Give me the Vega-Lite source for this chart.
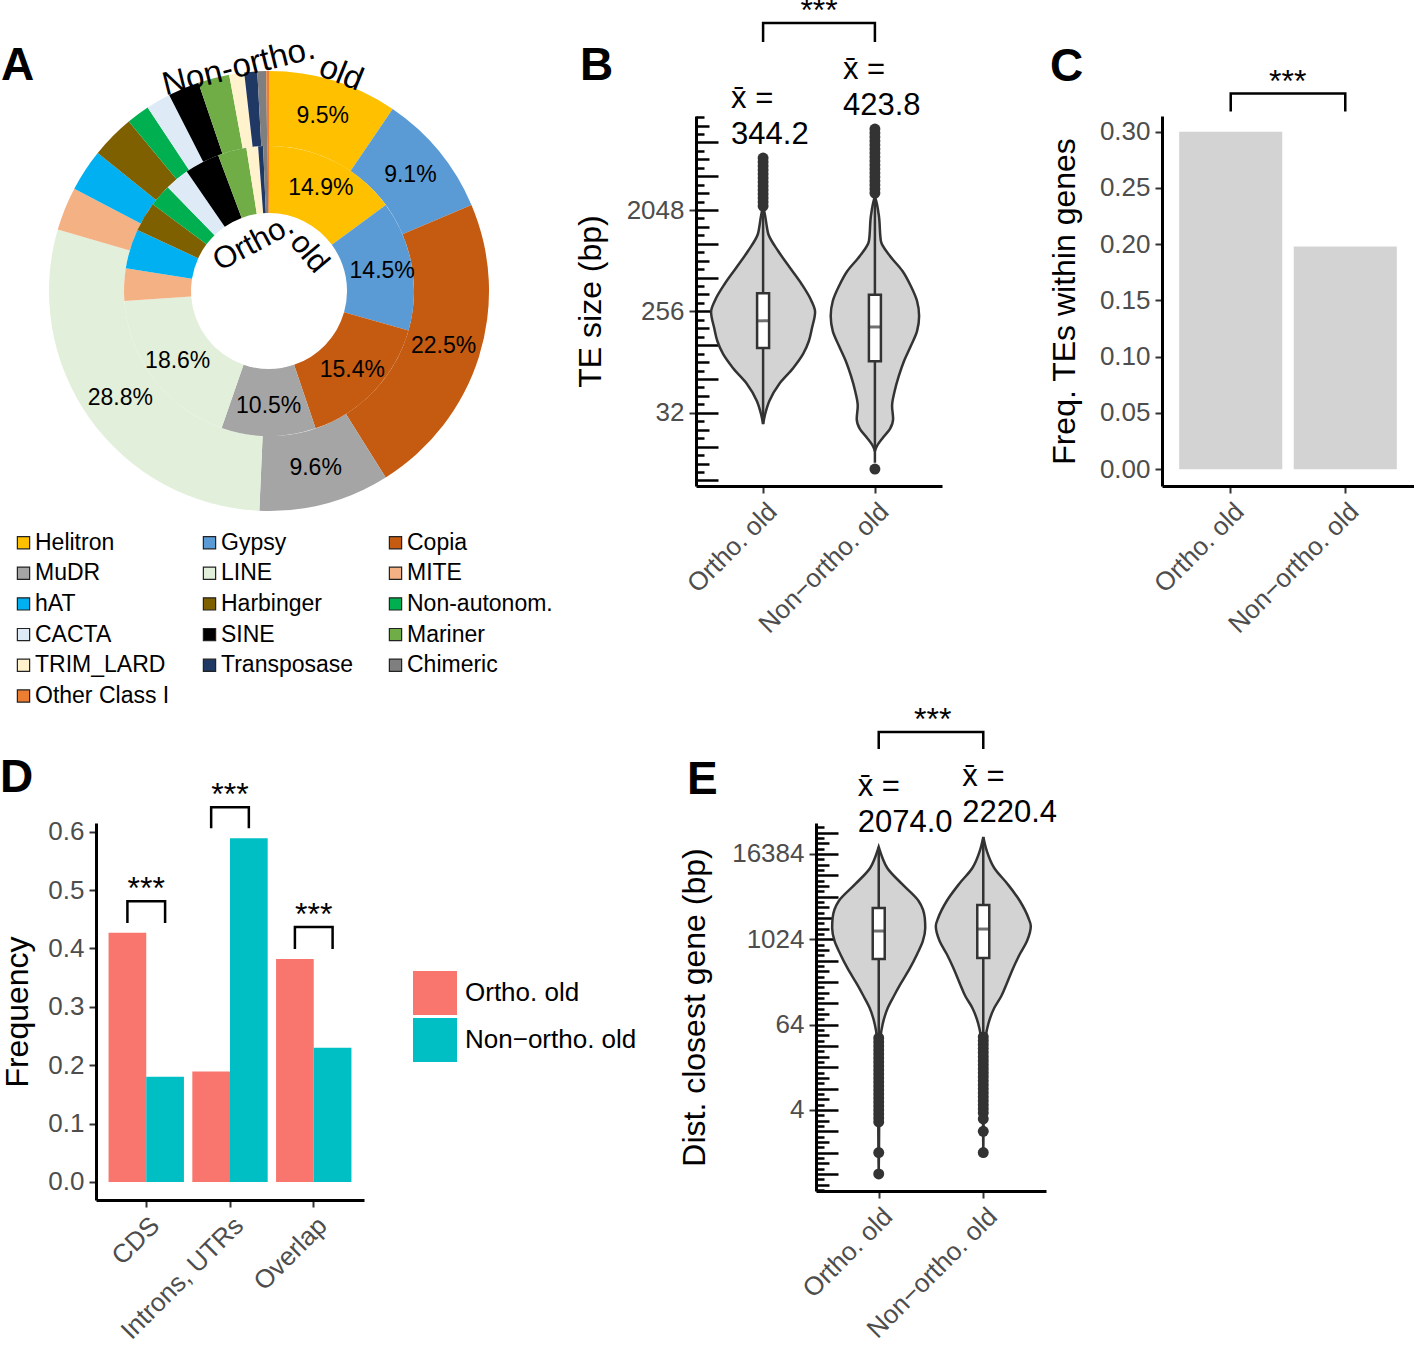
{
  "$schema": "https://vega.github.io/schema/vega-lite/v6.json",
  "background": "white",
  "padding": {"top": -5, "left": 0, "right": 0, "bottom": 0},
  "config": {
    "font": "Liberation Sans",
    "view": {"stroke": null},
    "axis": {"domainColor": "black", "domainWidth": 3, "tickColor": "#333333", "tickWidth": 2, "tickSize": 7, "labelColor": "#4D4D4D", "labelFontSize": 26, "labelPadding": 5, "titleFontSize": 32, "titleFontWeight": "normal", "titleColor": "black", "grid": false, "labelFlush": false, "labelOverlap": false},
    "title": {"fontSize": 46, "fontWeight": "bold", "anchor": "start", "frame": "group", "baseline": "alphabetic", "color": "black"},
    "legend": {"padding": 0, "labelColor": "black"}
  },
  "datasets": {
    "pieInner": [
      {"te": "Helitron", "idx": 1, "pct": 14.9, "lab": "14.9%"},
      {"te": "Gypsy", "idx": 2, "pct": 14.5, "lab": "14.5%"},
      {"te": "Copia", "idx": 3, "pct": 15.4, "lab": "15.4%"},
      {"te": "MuDR", "idx": 4, "pct": 10.5, "lab": "10.5%"},
      {"te": "LINE", "idx": 5, "pct": 18.6, "lab": "18.6%"},
      {"te": "MITE", "idx": 6, "pct": 3.6, "lab": ""},
      {"te": "hAT", "idx": 7, "pct": 4.4, "lab": ""},
      {"te": "Harbinger", "idx": 8, "pct": 3.3, "lab": ""},
      {"te": "Non-autonom.", "idx": 9, "pct": 2.5, "lab": ""},
      {"te": "CACTA", "idx": 10, "pct": 2.7, "lab": ""},
      {"te": "SINE", "idx": 11, "pct": 3.9, "lab": ""},
      {"te": "Mariner", "idx": 12, "pct": 3.2, "lab": ""},
      {"te": "TRIM_LARD", "idx": 13, "pct": 1.3, "lab": ""},
      {"te": "Transposase", "idx": 14, "pct": 0.55, "lab": ""},
      {"te": "Chimeric", "idx": 15, "pct": 0.5, "lab": ""},
      {"te": "Other Class I", "idx": 16, "pct": 0.15, "lab": ""}
    ],
    "pieOuter": [
      {"te": "Helitron", "idx": 1, "pct": 9.5, "lab": "9.5%"},
      {"te": "Gypsy", "idx": 2, "pct": 9.1, "lab": "9.1%"},
      {"te": "Copia", "idx": 3, "pct": 22.5, "lab": "22.5%"},
      {"te": "MuDR", "idx": 4, "pct": 9.6, "lab": "9.6%"},
      {"te": "LINE", "idx": 5, "pct": 28.8, "lab": "28.8%"},
      {"te": "MITE", "idx": 6, "pct": 3.2, "lab": ""},
      {"te": "hAT", "idx": 7, "pct": 3.1, "lab": ""},
      {"te": "Harbinger", "idx": 8, "pct": 3.2, "lab": ""},
      {"te": "Non-autonom.", "idx": 9, "pct": 1.7, "lab": ""},
      {"te": "CACTA", "idx": 10, "pct": 1.8, "lab": ""},
      {"te": "SINE", "idx": 11, "pct": 2.3, "lab": ""},
      {"te": "Mariner", "idx": 12, "pct": 2.3, "lab": ""},
      {"te": "TRIM_LARD", "idx": 13, "pct": 1.1, "lab": ""},
      {"te": "Transposase", "idx": 14, "pct": 0.95, "lab": ""},
      {"te": "Chimeric", "idx": 15, "pct": 0.65, "lab": ""},
      {"te": "Other Class I", "idx": 16, "pct": 0.2, "lab": ""}
    ],
    "violBo": [
      {"v": 2222, "dens": 0}, {"v": 1810, "dens": 0.04}, {"v": 1476, "dens": 0.07}, {"v": 1252, "dens": 0.1},
      {"v": 883, "dens": 0.29}, {"v": 623, "dens": 0.52}, {"v": 449, "dens": 0.74}, {"v": 317, "dens": 0.93},
      {"v": 253, "dens": 1.0}, {"v": 182, "dens": 0.94}, {"v": 139.5, "dens": 0.88}, {"v": 106.9, "dens": 0.77},
      {"v": 80.2, "dens": 0.58}, {"v": 57.8, "dens": 0.31}, {"v": 40.8, "dens": 0.12}, {"v": 31.2, "dens": 0.04}, {"v": 25.4, "dens": 0}
    ],
    "violBn": [
      {"v": 2729, "dens": 0}, {"v": 2300, "dens": 0.04}, {"v": 1810, "dens": 0.077}, {"v": 1085, "dens": 0.115},
      {"v": 797, "dens": 0.29}, {"v": 586, "dens": 0.53}, {"v": 431, "dens": 0.69}, {"v": 317, "dens": 0.81},
      {"v": 233, "dens": 0.85}, {"v": 171, "dens": 0.81}, {"v": 125.9, "dens": 0.69}, {"v": 92.6, "dens": 0.56},
      {"v": 68.1, "dens": 0.46}, {"v": 50.0, "dens": 0.38}, {"v": 36.8, "dens": 0.33}, {"v": 28.2, "dens": 0.35},
      {"v": 23.0, "dens": 0.29}, {"v": 19.1, "dens": 0.15}, {"v": 16.2, "dens": 0.04}, {"v": 14.6, "dens": 0}
    ],
    "boxB": [
      {"grp": "Ortho. old", "q1": 121, "med": 211, "q3": 372, "lo": 25.4, "hi": 2222, "mean": 344.2, "top": 5945},
      {"grp": "Non−ortho. old", "q1": 92, "med": 186, "q3": 360, "lo": 11.5, "hi": 2729, "mean": 423.8, "top": 10780}
    ],
    "outB": [
      {"grp": "Ortho. old", "v": 5945}, {"grp": "Ortho. old", "v": 5481}, {"grp": "Ortho. old", "v": 5050}, {"grp": "Ortho. old", "v": 4650},
      {"grp": "Ortho. old", "v": 4285}, {"grp": "Ortho. old", "v": 3948}, {"grp": "Ortho. old", "v": 3636}, {"grp": "Ortho. old", "v": 3349},
      {"grp": "Ortho. old", "v": 3087}, {"grp": "Ortho. old", "v": 2842}, {"grp": "Ortho. old", "v": 2620}, {"grp": "Ortho. old", "v": 2413},
      {"grp": "Ortho. old", "v": 2222},
      {"grp": "Non−ortho. old", "v": 10780}, {"grp": "Non−ortho. old", "v": 9933}, {"grp": "Non−ortho. old", "v": 9151}, {"grp": "Non−ortho. old", "v": 8430},
      {"grp": "Non−ortho. old", "v": 7767}, {"grp": "Non−ortho. old", "v": 7156}, {"grp": "Non−ortho. old", "v": 6592}, {"grp": "Non−ortho. old", "v": 6073},
      {"grp": "Non−ortho. old", "v": 5595}, {"grp": "Non−ortho. old", "v": 5154}, {"grp": "Non−ortho. old", "v": 4749}, {"grp": "Non−ortho. old", "v": 4375},
      {"grp": "Non−ortho. old", "v": 4030}, {"grp": "Non−ortho. old", "v": 3713}, {"grp": "Non−ortho. old", "v": 3421}, {"grp": "Non−ortho. old", "v": 3150},
      {"grp": "Non−ortho. old", "v": 2902}, {"grp": "Non−ortho. old", "v": 10.1}
    ],
    "brB": [
      {"grp": "Ortho. old", "yb": 64200, "k": 0}, {"grp": "Ortho. old", "yb": 94800, "k": 1},
      {"grp": "Non−ortho. old", "yb": 94800, "k": 2}, {"grp": "Non−ortho. old", "yb": 64200, "k": 3}
    ],
    "fracC": [
      {"grp": "Ortho. old", "frac": 0.3}, {"grp": "Non−ortho. old", "frac": 0.198}
    ],
    "brC": [
      {"grp": "Ortho. old", "yb": 0.318, "k": 0}, {"grp": "Ortho. old", "yb": 0.334, "k": 1},
      {"grp": "Non−ortho. old", "yb": 0.334, "k": 2}, {"grp": "Non−ortho. old", "yb": 0.318, "k": 3}
    ],
    "freqD": [
      {"cat": "CDS", "grp": "Ortho. old", "freq": 0.427}, {"cat": "CDS", "grp": "Non−ortho. old", "freq": 0.18},
      {"cat": "Introns, UTRs", "grp": "Ortho. old", "freq": 0.189}, {"cat": "Introns, UTRs", "grp": "Non−ortho. old", "freq": 0.589},
      {"cat": "Overlap", "grp": "Ortho. old", "freq": 0.382}, {"cat": "Overlap", "grp": "Non−ortho. old", "freq": 0.23}
    ],
    "brD": [
      {"cat": "CDS", "grp": "Ortho. old", "yb": 0.4435, "k": 0}, {"cat": "CDS", "grp": "Ortho. old", "yb": 0.481, "k": 1},
      {"cat": "CDS", "grp": "Non−ortho. old", "yb": 0.481, "k": 2}, {"cat": "CDS", "grp": "Non−ortho. old", "yb": 0.4435, "k": 3},
      {"cat": "Introns, UTRs", "grp": "Ortho. old", "yb": 0.606, "k": 0}, {"cat": "Introns, UTRs", "grp": "Ortho. old", "yb": 0.642, "k": 1},
      {"cat": "Introns, UTRs", "grp": "Non−ortho. old", "yb": 0.642, "k": 2}, {"cat": "Introns, UTRs", "grp": "Non−ortho. old", "yb": 0.606, "k": 3},
      {"cat": "Overlap", "grp": "Ortho. old", "yb": 0.399, "k": 0}, {"cat": "Overlap", "grp": "Ortho. old", "yb": 0.4366, "k": 1},
      {"cat": "Overlap", "grp": "Non−ortho. old", "yb": 0.4366, "k": 2}, {"cat": "Overlap", "grp": "Non−ortho. old", "yb": 0.399, "k": 3}
    ],
    "violEo": [
      {"v": 20570, "dens": 0}, {"v": 14380, "dens": 0.08}, {"v": 10400, "dens": 0.18}, {"v": 6183, "dens": 0.49},
      {"v": 3559, "dens": 0.84}, {"v": 2048, "dens": 0.97}, {"v": 1480, "dens": 0.98}, {"v": 969.6, "dens": 0.93},
      {"v": 635.5, "dens": 0.81}, {"v": 403.4, "dens": 0.66}, {"v": 239.8, "dens": 0.46}, {"v": 162.3, "dens": 0.32},
      {"v": 109.9, "dens": 0.19}, {"v": 65.3, "dens": 0.084}, {"v": 44.2, "dens": 0.042}, {"v": 19.6, "dens": 0.021},
      {"v": 5.35, "dens": 0.011}, {"v": 1.05, "dens": 0.006}, {"v": 0.5, "dens": 0}
    ],
    "violEn": [
      {"v": 28470, "dens": 0}, {"v": 18080, "dens": 0.074}, {"v": 10400, "dens": 0.23}, {"v": 6183, "dens": 0.51},
      {"v": 3559, "dens": 0.77}, {"v": 2048, "dens": 0.95}, {"v": 1579, "dens": 1.0}, {"v": 969.6, "dens": 0.92},
      {"v": 635.5, "dens": 0.77}, {"v": 403.4, "dens": 0.63}, {"v": 239.8, "dens": 0.49}, {"v": 162.3, "dens": 0.38},
      {"v": 109.9, "dens": 0.23}, {"v": 65.3, "dens": 0.105}, {"v": 44.2, "dens": 0.053}, {"v": 19.6, "dens": 0.021},
      {"v": 5.35, "dens": 0.011}, {"v": 1.0, "dens": 0}
    ],
    "boxE": [
      {"grp": "Ortho. old", "q1": 541, "med": 1340, "q3": 2840, "lo": 44.2, "hi": 20570, "mean": 2074.0, "top": 20570},
      {"grp": "Non−ortho. old", "q1": 556, "med": 1430, "q3": 3130, "lo": 44.2, "hi": 28470, "mean": 2220.4, "top": 28470}
    ],
    "outE": [
      {"grp": "Ortho. old", "v": 41.5}, {"grp": "Ortho. old", "v": 36.4}, {"grp": "Ortho. old", "v": 32.0}, {"grp": "Ortho. old", "v": 28.1},
      {"grp": "Ortho. old", "v": 24.7}, {"grp": "Ortho. old", "v": 21.6}, {"grp": "Ortho. old", "v": 19.0}, {"grp": "Ortho. old", "v": 16.7},
      {"grp": "Ortho. old", "v": 14.7}, {"grp": "Ortho. old", "v": 12.9}, {"grp": "Ortho. old", "v": 11.3}, {"grp": "Ortho. old", "v": 9.93},
      {"grp": "Ortho. old", "v": 8.72}, {"grp": "Ortho. old", "v": 7.65}, {"grp": "Ortho. old", "v": 6.72}, {"grp": "Ortho. old", "v": 5.9},
      {"grp": "Ortho. old", "v": 5.18}, {"grp": "Ortho. old", "v": 4.55}, {"grp": "Ortho. old", "v": 4.0}, {"grp": "Ortho. old", "v": 3.51},
      {"grp": "Ortho. old", "v": 3.08}, {"grp": "Ortho. old", "v": 2.71}, {"grp": "Ortho. old", "v": 1.0}, {"grp": "Ortho. old", "v": 0.5},
      {"grp": "Non−ortho. old", "v": 43.0}, {"grp": "Non−ortho. old", "v": 38.0}, {"grp": "Non−ortho. old", "v": 33.5}, {"grp": "Non−ortho. old", "v": 29.4},
      {"grp": "Non−ortho. old", "v": 25.8}, {"grp": "Non−ortho. old", "v": 22.6}, {"grp": "Non−ortho. old", "v": 19.8}, {"grp": "Non−ortho. old", "v": 17.4},
      {"grp": "Non−ortho. old", "v": 15.3}, {"grp": "Non−ortho. old", "v": 13.4}, {"grp": "Non−ortho. old", "v": 11.8}, {"grp": "Non−ortho. old", "v": 10.3},
      {"grp": "Non−ortho. old", "v": 9.05}, {"grp": "Non−ortho. old", "v": 7.95}, {"grp": "Non−ortho. old", "v": 6.98}, {"grp": "Non−ortho. old", "v": 6.13},
      {"grp": "Non−ortho. old", "v": 5.38}, {"grp": "Non−ortho. old", "v": 4.72}, {"grp": "Non−ortho. old", "v": 4.15}, {"grp": "Non−ortho. old", "v": 3.64},
      {"grp": "Non−ortho. old", "v": 3.0}, {"grp": "Non−ortho. old", "v": 2.0}, {"grp": "Non−ortho. old", "v": 1.0}
    ],
    "brE": [
      {"grp": "Ortho. old", "yb": 497000, "k": 0}, {"grp": "Ortho. old", "yb": 863600, "k": 1},
      {"grp": "Non−ortho. old", "yb": 863600, "k": 2}, {"grp": "Non−ortho. old", "yb": 497000, "k": 3}
    ]
  },
  "columns": 1,
  "spacing": -5,
  "resolve": {"scale": {"color": "independent"}, "legend": {"color": "independent"}},
  "concat": [
    {
      "hconcat": [
        {
          "width": 380,
          "height": 350,
          "title": {"text": "A", "dx": -95, "offset": -57},
          "encoding": {
            "x": {"datum": 0, "type": "quantitative", "scale": {"domain": [-0.4553, 0.5447]}, "axis": null},
            "y": {"datum": 0, "type": "quantitative", "scale": {"domain": [-1, 1]}, "axis": null}
          },
          "layer": [
            {
              "data": {"name": "pieOuter"},
              "mark": {"type": "arc", "radius": 220, "radius2": 145},
              "encoding": {
                "theta": {"field": "pct", "type": "quantitative", "stack": true, "scale": {"domain": [0, 100]}},
                "order": {"field": "idx", "type": "quantitative"},
                "color": {
                  "field": "te", "type": "nominal",
                  "scale": {
                    "domain": ["Helitron", "Gypsy", "Copia", "MuDR", "LINE", "MITE", "hAT", "Harbinger", "Non-autonom.", "CACTA", "SINE", "Mariner", "TRIM_LARD", "Transposase", "Chimeric", "Other Class I"],
                    "range": ["#FFC000", "#5B9BD5", "#C55A11", "#A5A5A5", "#E2EFDA", "#F4B183", "#00B0F0", "#7F6000", "#00B050", "#DEEBF7", "#000000", "#70AD47", "#FFF2CC", "#203864", "#7F7F7F", "#ED7D31"]
                  },
                  "legend": {"orient": "none", "legendX": -84, "legendY": 415, "columns": 3, "direction": "horizontal", "title": null, "symbolType": "square", "symbolSize": 150, "symbolStrokeColor": "#222222", "symbolStrokeWidth": 1.2, "labelFontSize": 23, "labelColor": "black", "labelOffset": 0, "rowPadding": 6.7, "columnPadding": 17, "gridAlign": "all", "labelLimit": 400}
                }
              }
            },
            {
              "data": {"name": "pieInner"},
              "mark": {"type": "arc", "radius": 145, "radius2": 78},
              "encoding": {
                "theta": {"field": "pct", "type": "quantitative", "stack": true, "scale": {"domain": [0, 100]}},
                "order": {"field": "idx", "type": "quantitative"},
                "color": {"field": "te", "type": "nominal"}
              }
            },
            {
              "data": {"name": "pieOuter"},
              "mark": {"type": "text", "radius": 183, "fontSize": 23, "color": "black"},
              "encoding": {
                "theta": {"field": "pct", "type": "quantitative", "stack": true, "scale": {"domain": [0, 100]}},
                "order": {"field": "idx", "type": "quantitative"},
                "text": {"field": "lab", "type": "nominal"}
              }
            },
            {
              "data": {"name": "pieInner"},
              "mark": {"type": "text", "radius": 115, "fontSize": 23, "color": "black"},
              "encoding": {
                "theta": {"field": "pct", "type": "quantitative", "stack": true, "scale": {"domain": [0, 100]}},
                "order": {"field": "idx", "type": "quantitative"},
                "text": {"field": "lab", "type": "nominal"}
              }
            },
            {
              "data": {"values": [{"label": "Non-ortho."}]},
              "mark": {"type": "text", "radius": 226, "angle": -14, "fontSize": 33, "color": "black", "align": "center", "baseline": "middle"},
              "encoding": {"theta": {"datum": -2.14, "type": "quantitative", "scale": {"domain": [0, 100]}}, "text": {"field": "label"}}
            },
            {
              "data": {"values": [{"label": "old"}]},
              "mark": {"type": "text", "radius": 229, "angle": 22, "fontSize": 33, "color": "black", "align": "center", "baseline": "middle"},
              "encoding": {"theta": {"datum": 5.1, "type": "quantitative", "scale": {"domain": [0, 100]}}, "text": {"field": "label"}}
            },
            {
              "data": {"values": [{"label": "Ortho."}]},
              "mark": {"type": "text", "radius": 50, "angle": -28, "fontSize": 31, "color": "black", "align": "center", "baseline": "middle"},
              "encoding": {"theta": {"datum": -5, "type": "quantitative", "scale": {"domain": [0, 100]}}, "text": {"field": "label"}}
            },
            {
              "data": {"values": [{"label": "old"}]},
              "mark": {"type": "text", "radius": 55, "angle": 50, "fontSize": 31, "color": "black", "align": "center", "baseline": "middle"},
              "encoding": {"theta": {"datum": 12.9, "type": "quantitative", "scale": {"domain": [0, 100]}}, "text": {"field": "label"}}
            }
          ]
        },
        {
          "width": 246,
          "height": 370,
          "title": {"text": "B", "dx": -116, "offset": -95},
          "resolve": {"scale": {"x": "independent"}, "axis": {"x": "independent", "y": "independent"}},
          "layer": [
            {
              "data": {"name": "violBo"},
              "mark": {"type": "area", "orient": "horizontal", "interpolate": "monotone", "fill": "#D3D3D3", "stroke": "#333333", "strokeWidth": 2.5},
              "encoding": {
                "y": {"field": "v", "type": "quantitative", "scale": {"type": "log", "base": 2, "domain": [7.13, 14080], "nice": false}, "axis": {"orient": "left", "values": [32, 256, 2048], "format": "d", "title": "TE size (bp)", "titlePadding": 19}},
                "x": {"field": "dens", "type": "quantitative", "stack": "center", "scale": {"domain": [-0.145, 2.22]}, "axis": null}
              }
            },
            {
              "data": {"name": "violBn"},
              "mark": {"type": "area", "orient": "horizontal", "interpolate": "monotone", "fill": "#D3D3D3", "stroke": "#333333", "strokeWidth": 2.5},
              "encoding": {
                "y": {"field": "v", "type": "quantitative", "scale": {"type": "log", "base": 2, "domain": [7.13, 14080], "nice": false}, "axis": {"orient": "left", "values": [8, 16, 32, 64, 128, 256, 512, 1024, 2048, 4096, 8192], "labels": false, "domain": false, "title": null, "tickSize": -22, "tickColor": "black", "tickWidth": 2.5}},
                "x": {"field": "dens", "type": "quantitative", "stack": "center", "scale": {"domain": [-1.295, 1.07]}, "axis": null}
              }
            },
            {
              "data": {"name": "boxB"},
              "mark": {"type": "rule", "color": "#333333", "strokeWidth": 2.5},
              "encoding": {
                "x": {"field": "grp", "type": "nominal", "scale": {"type": "point", "domain": ["Ortho. old", "Non−ortho. old"], "padding": 0.6}, "axis": {"title": null, "labelAngle": -45}},
                "y": {"field": "lo", "type": "quantitative", "scale": {"type": "log", "base": 2, "domain": [7.13, 14080], "nice": false}, "axis": {"orient": "left", "values": [11.31, 22.63, 45.25, 90.51, 181.02, 362.04, 724.08, 1448.15, 2896.31, 5792.62, 11585.24], "labels": false, "domain": false, "title": null, "tickSize": -13, "tickColor": "black", "tickWidth": 2.5}},
                "y2": {"field": "hi"}
              }
            },
            {
              "data": {"name": "boxB"},
              "mark": {"type": "bar", "size": 12, "fill": "white", "stroke": "#333333", "strokeWidth": 2.5},
              "encoding": {
                "x": {"field": "grp", "type": "nominal", "scale": {"type": "point", "domain": ["Ortho. old", "Non−ortho. old"], "padding": 0.6}, "axis": null},
                "y": {"field": "q1", "type": "quantitative", "scale": {"type": "log", "base": 2, "domain": [7.13, 14080], "nice": false}, "axis": {"orient": "left", "values": [9.51, 13.45, 19.03, 26.91, 38.05, 53.82, 76.11, 107.63, 152.22, 215.27, 304.44, 430.54, 608.87, 861.08, 1217.75, 1722.16, 2435.5, 3444.31, 4870.99, 6888.62, 9741.98, 13777.2], "labels": false, "domain": false, "title": null, "tickSize": -8, "tickColor": "black", "tickWidth": 2.5}},
                "y2": {"field": "q3"}
              }
            },
            {
              "data": {"name": "boxB"},
              "mark": {"type": "tick", "orient": "horizontal", "size": 12, "thickness": 3, "color": "#333333"},
              "encoding": {
                "x": {"field": "grp", "type": "nominal", "scale": {"type": "point", "domain": ["Ortho. old", "Non−ortho. old"], "padding": 0.6}, "axis": null},
                "y": {"field": "med", "type": "quantitative", "scale": {"type": "log", "base": 2, "domain": [7.13, 14080], "nice": false}, "axis": null}
              }
            },
            {
              "data": {"name": "outB"},
              "mark": {"type": "circle", "size": 120, "color": "#333333", "opacity": 1},
              "encoding": {
                "x": {"field": "grp", "type": "nominal", "scale": {"type": "point", "domain": ["Ortho. old", "Non−ortho. old"], "padding": 0.6}, "axis": null},
                "y": {"field": "v", "type": "quantitative", "scale": {"type": "log", "base": 2, "domain": [7.13, 14080], "nice": false}, "axis": null}
              }
            },
            {
              "data": {"name": "boxB"},
              "mark": {"type": "text", "align": "left", "baseline": "alphabetic", "dx": -32, "dy": -50, "fontSize": 31, "color": "black", "text": "x\u0304 ="},
              "encoding": {
                "x": {"field": "grp", "type": "nominal", "scale": {"type": "point", "domain": ["Ortho. old", "Non−ortho. old"], "padding": 0.6}, "axis": null},
                "y": {"field": "top", "type": "quantitative", "scale": {"type": "log", "base": 2, "domain": [7.13, 14080], "nice": false}, "axis": null}
              }
            },
            {
              "data": {"name": "boxB"},
              "mark": {"type": "text", "align": "left", "baseline": "alphabetic", "dx": -32, "dy": -14, "fontSize": 31, "color": "black"},
              "encoding": {
                "x": {"field": "grp", "type": "nominal", "scale": {"type": "point", "domain": ["Ortho. old", "Non−ortho. old"], "padding": 0.6}, "axis": null},
                "y": {"field": "top", "type": "quantitative", "scale": {"type": "log", "base": 2, "domain": [7.13, 14080], "nice": false}, "axis": null},
                "text": {"field": "mean", "type": "quantitative", "format": ".1f"}
              }
            },
            {
              "data": {"name": "brB"},
              "mark": {"type": "line", "color": "black", "strokeWidth": 2.5},
              "encoding": {
                "x": {"field": "grp", "type": "nominal", "scale": {"type": "point", "domain": ["Ortho. old", "Non−ortho. old"], "padding": 0.6}, "axis": null},
                "y": {"field": "yb", "type": "quantitative", "scale": {"type": "log", "base": 2, "domain": [7.13, 14080], "nice": false}, "axis": null},
                "order": {"field": "k", "type": "quantitative"}
              }
            },
            {
              "data": {"name": "brB"},
              "transform": [{"filter": "datum.k == 1"}],
              "mark": {"type": "text", "text": "***", "fontSize": 32, "dx": 56, "dy": -2, "baseline": "alphabetic", "align": "center", "color": "black"},
              "encoding": {
                "x": {"field": "grp", "type": "nominal", "scale": {"type": "point", "domain": ["Ortho. old", "Non−ortho. old"], "padding": 0.6}, "axis": null},
                "y": {"field": "yb", "type": "quantitative", "scale": {"type": "log", "base": 2, "domain": [7.13, 14080], "nice": false}, "axis": null}
              }
            }
          ]
        },
        {
          "width": 252,
          "height": 370,
          "title": {"text": "C", "dx": -112, "offset": -25},
          "layer": [
            {
              "data": {"name": "fracC"},
              "mark": {"type": "bar", "color": "#D3D3D3"},
              "encoding": {
                "x": {"field": "grp", "type": "nominal", "scale": {"domain": ["Ortho. old", "Non−ortho. old"], "paddingInner": 0.1, "paddingOuter": 0.15}, "axis": {"title": null, "labelAngle": -45}},
                "y": {"field": "frac", "type": "quantitative", "scale": {"domain": [-0.015, 0.314], "nice": false, "zero": false}, "axis": {"values": [0, 0.05, 0.1, 0.15, 0.2, 0.25, 0.3], "format": ".2f", "title": "Freq. TEs within genes", "titlePadding": 18}}
              }
            },
            {
              "data": {"name": "brC"},
              "mark": {"type": "line", "color": "black", "strokeWidth": 2.5},
              "encoding": {
                "x": {"field": "grp", "type": "nominal"},
                "y": {"field": "yb", "type": "quantitative"},
                "order": {"field": "k", "type": "quantitative"}
              }
            },
            {
              "data": {"name": "brC"},
              "transform": [{"filter": "datum.k == 1"}],
              "mark": {"type": "text", "text": "***", "fontSize": 32, "dx": 57, "dy": -2, "baseline": "alphabetic", "align": "center", "color": "black"},
              "encoding": {
                "x": {"field": "grp", "type": "nominal"},
                "y": {"field": "yb", "type": "quantitative"}
              }
            }
          ]
        }
      ],
      "spacing": 220,
      "bounds": "flush"
    },
    {
      "hconcat": [
        {
          "width": 268,
          "height": 377,
          "title": {"text": "D", "dx": -96, "offset": -23},
          "layer": [
            {
              "data": {"name": "freqD"},
              "mark": {"type": "bar"},
              "encoding": {
                "x": {"field": "cat", "type": "nominal", "scale": {"domain": ["CDS", "Introns, UTRs", "Overlap"], "paddingInner": 0.1, "paddingOuter": 0.15}, "axis": {"title": null, "labelAngle": -45}},
                "xOffset": {"field": "grp", "type": "nominal", "scale": {"domain": ["Ortho. old", "Non−ortho. old"], "paddingInner": 0, "paddingOuter": 0}},
                "y": {"field": "freq", "type": "quantitative", "scale": {"domain": [-0.031, 0.615], "nice": false, "zero": false}, "axis": {"values": [0, 0.1, 0.2, 0.3, 0.4, 0.5, 0.6], "format": ".1f", "title": "Frequency", "titlePadding": 13}},
                "color": {"field": "grp", "type": "nominal", "scale": {"domain": ["Ortho. old", "Non−ortho. old"], "range": ["#F8766D", "#00BFC4"]}, "legend": {"orient": "none", "legendX": 317, "legendY": 148, "title": null, "direction": "vertical", "symbolType": "square", "symbolSize": 1936, "symbolStrokeWidth": 0, "labelFontSize": 26, "labelColor": "black", "labelOffset": 8, "rowPadding": 3, "labelLimit": 400}}
              }
            },
            {
              "data": {"name": "brD"},
              "mark": {"type": "line", "color": "black", "strokeWidth": 2.5},
              "encoding": {
                "x": {"field": "cat", "type": "nominal"},
                "xOffset": {"field": "grp", "type": "nominal"},
                "y": {"field": "yb", "type": "quantitative"},
                "detail": {"field": "cat"},
                "order": {"field": "k", "type": "quantitative"}
              }
            },
            {
              "data": {"name": "brD"},
              "transform": [{"filter": "datum.k == 1"}],
              "mark": {"type": "text", "text": "***", "fontSize": 32, "dy": -2, "baseline": "alphabetic", "align": "center", "color": "black"},
              "encoding": {
                "x": {"field": "cat", "type": "nominal"},
                "y": {"field": "yb", "type": "quantitative"}
              }
            }
          ]
        },
        {
          "width": 230,
          "height": 368,
          "title": {"text": "E", "dx": -129, "offset": -100},
          "resolve": {"scale": {"x": "independent"}, "axis": {"x": "independent", "y": "independent"}},
          "layer": [
            {
              "data": {"name": "violEo"},
              "mark": {"type": "area", "orient": "horizontal", "interpolate": "monotone", "fill": "#D3D3D3", "stroke": "#333333", "strokeWidth": 2.5},
              "encoding": {
                "y": {"field": "v", "type": "quantitative", "scale": {"type": "log", "base": 2, "domain": [0.287, 44860], "nice": false}, "axis": {"orient": "left", "values": [4, 64, 1024, 16384], "format": "d", "title": "Dist. closest gene (bp)", "titlePadding": 20}},
                "x": {"field": "dens", "type": "quantitative", "stack": "center", "scale": {"domain": [-0.17, 2.251]}, "axis": null}
              }
            },
            {
              "data": {"name": "violEn"},
              "mark": {"type": "area", "orient": "horizontal", "interpolate": "monotone", "fill": "#D3D3D3", "stroke": "#333333", "strokeWidth": 2.5},
              "encoding": {
                "y": {"field": "v", "type": "quantitative", "scale": {"type": "log", "base": 2, "domain": [0.287, 44860], "nice": false}, "axis": {"orient": "left", "values": [0.5, 1, 2, 4, 8, 16, 32, 64, 128, 256, 512, 1024, 2048, 4096, 8192, 16384, 32768], "labels": false, "domain": false, "title": null, "tickSize": -22, "tickColor": "black", "tickWidth": 2.5}},
                "x": {"field": "dens", "type": "quantitative", "stack": "center", "scale": {"domain": [-1.261, 1.16]}, "axis": null}
              }
            },
            {
              "data": {"name": "boxE"},
              "mark": {"type": "rule", "color": "#333333", "strokeWidth": 2.5},
              "encoding": {
                "x": {"field": "grp", "type": "nominal", "scale": {"type": "point", "domain": ["Ortho. old", "Non−ortho. old"], "padding": 0.6}, "axis": {"title": null, "labelAngle": -45}},
                "y": {"field": "lo", "type": "quantitative", "scale": {"type": "log", "base": 2, "domain": [0.287, 44860], "nice": false}, "axis": {"orient": "left", "values": [0.354, 0.707, 1.414, 2.828, 5.657, 11.31, 22.63, 45.25, 90.51, 181.02, 362.04, 724.08, 1448.15, 2896.31, 5792.62, 11585.24, 23170.48], "labels": false, "domain": false, "title": null, "tickSize": -13, "tickColor": "black", "tickWidth": 2.5}},
                "y2": {"field": "hi"}
              }
            },
            {
              "data": {"name": "boxE"},
              "mark": {"type": "bar", "size": 12, "fill": "white", "stroke": "#333333", "strokeWidth": 2.5},
              "encoding": {
                "x": {"field": "grp", "type": "nominal", "scale": {"type": "point", "domain": ["Ortho. old", "Non−ortho. old"], "padding": 0.6}, "axis": null},
                "y": {"field": "q1", "type": "quantitative", "scale": {"type": "log", "base": 2, "domain": [0.287, 44860], "nice": false}, "axis": {"orient": "left", "values": [0.2973, 0.4204, 0.5946, 0.8409, 1.1892, 1.6818, 2.3784, 3.3636, 4.7568, 6.7272, 9.5137, 13.4543, 19.0273, 26.9087, 38.0546, 53.8174, 76.1093, 107.635, 152.219, 215.27, 304.437, 430.539, 608.874, 861.078, 1217.75, 1722.16, 2435.5, 3444.31, 4870.99, 6888.62, 9741.98, 13777.2, 19483.97, 27554.4, 38967.9], "labels": false, "domain": false, "title": null, "tickSize": -8, "tickColor": "black", "tickWidth": 2.5}},
                "y2": {"field": "q3"}
              }
            },
            {
              "data": {"name": "boxE"},
              "mark": {"type": "tick", "orient": "horizontal", "size": 12, "thickness": 3, "color": "#333333"},
              "encoding": {
                "x": {"field": "grp", "type": "nominal", "scale": {"type": "point", "domain": ["Ortho. old", "Non−ortho. old"], "padding": 0.6}, "axis": null},
                "y": {"field": "med", "type": "quantitative", "scale": {"type": "log", "base": 2, "domain": [0.287, 44860], "nice": false}, "axis": null}
              }
            },
            {
              "data": {"name": "outE"},
              "mark": {"type": "circle", "size": 120, "color": "#333333", "opacity": 1},
              "encoding": {
                "x": {"field": "grp", "type": "nominal", "scale": {"type": "point", "domain": ["Ortho. old", "Non−ortho. old"], "padding": 0.6}, "axis": null},
                "y": {"field": "v", "type": "quantitative", "scale": {"type": "log", "base": 2, "domain": [0.287, 44860], "nice": false}, "axis": null}
              }
            },
            {
              "data": {"name": "boxE"},
              "mark": {"type": "text", "align": "left", "baseline": "alphabetic", "dx": -21, "dy": -51, "fontSize": 31, "color": "black", "text": "x\u0304 ="},
              "encoding": {
                "x": {"field": "grp", "type": "nominal", "scale": {"type": "point", "domain": ["Ortho. old", "Non−ortho. old"], "padding": 0.6}, "axis": null},
                "y": {"field": "top", "type": "quantitative", "scale": {"type": "log", "base": 2, "domain": [0.287, 44860], "nice": false}, "axis": null}
              }
            },
            {
              "data": {"name": "boxE"},
              "mark": {"type": "text", "align": "left", "baseline": "alphabetic", "dx": -21, "dy": -15, "fontSize": 31, "color": "black"},
              "encoding": {
                "x": {"field": "grp", "type": "nominal", "scale": {"type": "point", "domain": ["Ortho. old", "Non−ortho. old"], "padding": 0.6}, "axis": null},
                "y": {"field": "top", "type": "quantitative", "scale": {"type": "log", "base": 2, "domain": [0.287, 44860], "nice": false}, "axis": null},
                "text": {"field": "mean", "type": "quantitative", "format": ".1f"}
              }
            },
            {
              "data": {"name": "brE"},
              "mark": {"type": "line", "color": "black", "strokeWidth": 2.5},
              "encoding": {
                "x": {"field": "grp", "type": "nominal", "scale": {"type": "point", "domain": ["Ortho. old", "Non−ortho. old"], "padding": 0.6}, "axis": null},
                "y": {"field": "yb", "type": "quantitative", "scale": {"type": "log", "base": 2, "domain": [0.287, 44860], "nice": false}, "axis": null},
                "order": {"field": "k", "type": "quantitative"}
              }
            },
            {
              "data": {"name": "brE"},
              "transform": [{"filter": "datum.k == 1"}],
              "mark": {"type": "text", "text": "***", "fontSize": 32, "dx": 54, "dy": -2, "baseline": "alphabetic", "align": "center", "color": "black"},
              "encoding": {
                "x": {"field": "grp", "type": "nominal", "scale": {"type": "point", "domain": ["Ortho. old", "Non−ortho. old"], "padding": 0.6}, "axis": null},
                "y": {"field": "yb", "type": "quantitative", "scale": {"type": "log", "base": 2, "domain": [0.287, 44860], "nice": false}, "axis": null}
              }
            }
          ]
        }
      ],
      "spacing": 452,
      "bounds": "flush"
    }
  ]
}
